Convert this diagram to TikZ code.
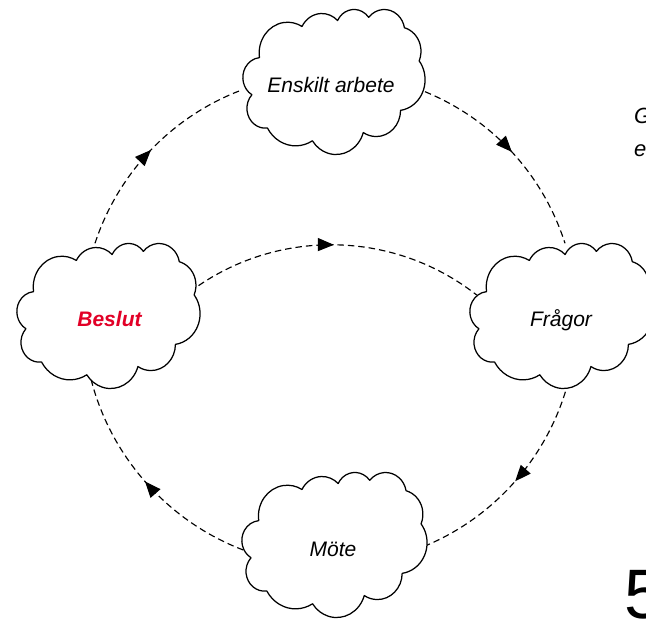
\documentclass[tikz,border=0pt]{standalone}
\usepackage{fontspec}
\setmainfont{Liberation Sans}
\usetikzlibrary{arrows.meta,decorations.markings}
\definecolor{beslutred}{RGB}{226,0,39}
\tikzset{
  cloudline/.style={draw=black, line width=1.25pt, fill=white, line join=round},
  flow/.style={draw=black, line width=1.15pt, dash pattern=on 6.5pt off 4pt,
    postaction={decorate},
    decoration={markings, mark=at position 0.5 with {\arrow{Triangle[length=16pt,width=13pt]}}}},
  lbl/.style={font=\fontsize{21}{25}\selectfont\itshape, anchor=base, inner sep=0pt},
}
\newcommand\drawcloud[4]{%
  \pgfmathsetmacro\cloudw{#3/432}\pgfmathsetmacro\cloudh{#4/432}%
  \begin{scope}[shift={(#1,#2)}, x=\cloudw pt, y=-\cloudh pt]
    \path[cloudline] (39,143.7)
      arc[start angle=-187.75, delta angle=128.11, x radius=67.53, y radius=91.90]
      arc[start angle=-152.02, delta angle=106.56, x radius=53.33, y radius=72.67]
      arc[start angle=-153.49, delta angle=116.17, x radius=43.65, y radius=59.45]
      arc[start angle=-139.72, delta angle=129.50, x radius=48.57, y radius=65.95]
      arc[start angle=-74.77,  delta angle=97.98,  x radius=53.33, y radius=72.73]
      arc[start angle=-37.52,  delta angle=119.39, x radius=67.75, y radius=92.20]
      arc[start angle=0.46,    delta angle=121.53, x radius=57.85, y radius=78.67]
      arc[start angle=16.84,   delta angle=129.40, x radius=67.52, y radius=92.15]
      arc[start angle=58.98,   delta angle=91.21,  x radius=77.20, y radius=105.43]
      arc[start angle=83.31,   delta angle=139.81, x radius=43.60, y radius=59.18]
      arc[start angle=120.35,  delta angle=143.76, x radius=43.45, y radius=59.45]
      -- cycle;
  \end{scope}}
\begin{document}
\begin{tikzpicture}[x=1pt, y=-1pt]
  \useasboundingbox (0,0) rectangle (646,619);
  \clip (0,0) rectangle (646,619);
  % connector end points on the clouds
  \coordinate (eL) at (241.7,90);
  \coordinate (eR) at (425,91.7);
  \coordinate (fT) at (565,243.3);
  \coordinate (fB) at (568.3,381.7);
  \coordinate (fL) at (476.7,295);
  \coordinate (mR) at (423.3,546.7);
  \coordinate (mL) at (243.3,550);
  \coordinate (bB) at (90,375);
  \coordinate (bT) at (95,243.3);
  \coordinate (bR) at (190,291.7);
  % connectors
  \draw[flow] (bT) to[bend left=25.5, looseness=0.9] (eL);
  \draw[flow] (eR) to[bend left=24.9, looseness=0.9] (fT);
  \draw[flow] (fB) to[bend left=26.5, looseness=0.9] (mR);
  \draw[flow] (mL) to[bend left=28, looseness=0.9] (bB);
  \draw[flow] (bR) to[bend left=37.4, looseness=0.95] (fL);
  % clouds
  \drawcloud{243}{9}{182}{145}
  \drawcloud{17}{243}{183}{145}
  \drawcloud{470}{243}{183}{145}
  \drawcloud{242}{472}{185}{145}
  % labels
  \node[lbl] (enskilt) at (331,92.7) {Enskilt arbete};
  \node[lbl, text=beslutred, font=\fontsize{21}{25}\selectfont\itshape\bfseries] (beslut) at (109.5,326) {Beslut};
  \node[lbl] (fragor) at (561,326.7) {Frågor};
  \node[lbl] (mote) at (333,556) {Möte};
  % partly visible texts at the right edge
  \node[font=\fontsize{22}{26}\selectfont\itshape, anchor=base west, inner sep=0pt] (g) at (634,123) {G};
  \node[font=\fontsize{22}{26}\selectfont\itshape, anchor=base west, inner sep=0pt] (e) at (634,156) {e};
  \node[font=\fontsize{70}{80}\selectfont, anchor=base west, inner sep=0pt] (five) at (624,618) {5};
\end{tikzpicture}
\end{document}
